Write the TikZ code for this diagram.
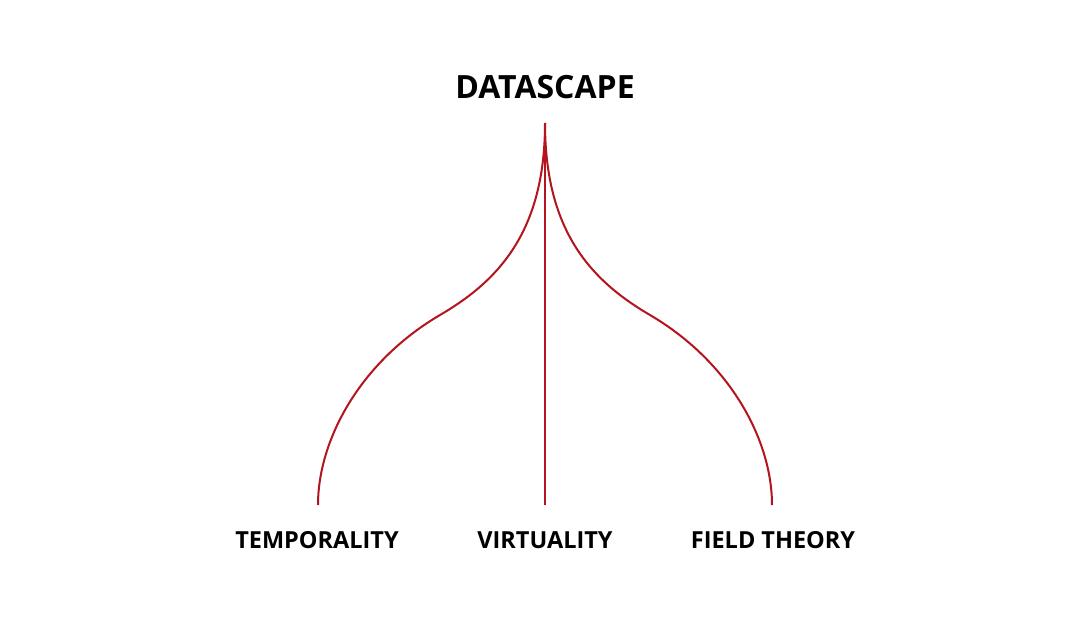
\documentclass[tikz,border=0pt]{standalone}
\usepackage{fontspec}
\setmainfont{Open Sans}
\definecolor{branchred}{HTML}{B3141E}
\begin{document}
\begin{tikzpicture}[x=1pt,y=-1pt,
  branch/.style={draw=branchred,line width=2pt},
  title/.style={font=\bfseries\fontsize{32}{36}\selectfont,inner sep=0pt},
  leaf/.style={font=\bfseries\fontsize{23.5}{27}\selectfont,inner sep=0pt}]
\useasboundingbox[fill=white] (0,0) rectangle (1090,618);
\node[title] (ds) at (545,87) {DATASCAPE};
\coordinate (top) at (545,123);
\coordinate (lend) at (318,505);
\coordinate (mend) at (545,505);
\coordinate (rend) at (772,505);
\node[leaf] (temp) at (317,540) {TEMPORALITY};
\node[leaf] (virt) at (545,540) {VIRTUALITY};
\node[leaf] (field) at (773,540) {FIELD THEORY};
\draw[branch] (top) -- (mend);
\draw[branch] (top) .. controls (545,230) and (500,280) .. (440,315)
  .. controls (360,362) and (318,440) .. (lend);
\draw[branch] (top) .. controls (545,230) and (590,280) .. (650,315)
  .. controls (730,362) and (772,440) .. (rend);
\end{tikzpicture}
\end{document}
